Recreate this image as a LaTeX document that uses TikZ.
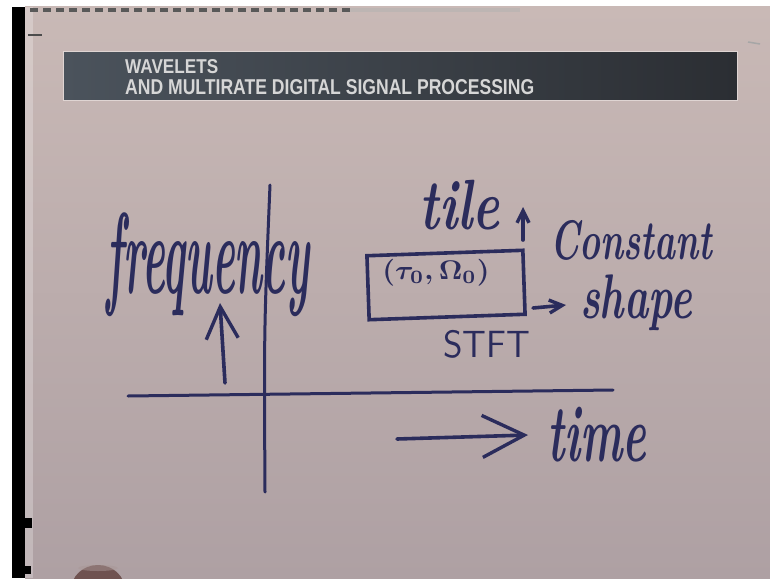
\documentclass[tikz,border=0pt]{standalone}
\usepackage{fontspec}
\usepackage{graphicx}
\usetikzlibrary{arrows.meta}
\newfontfamily\bannerfont{Liberation Sans}
\definecolor{paperTop}{HTML}{C9B9B6}
\definecolor{paperBot}{HTML}{AEA0A3}
\definecolor{bannerL}{HTML}{4B535C}
\definecolor{bannerR}{HTML}{2B2E33}
\definecolor{bannerTxt}{HTML}{D6D6D6}
\definecolor{inkBlue}{HTML}{2B2C5C}
\definecolor{skin}{HTML}{6F5250}
% handwritten word, stretched to a given width and total height
\newcommand{\hw}[3]{\resizebox*{#1}{#2}{#3}}
\tikzset{
  ink/.style={inkBlue, line width=3.6pt, line cap=round, line join=round},
  word/.style={inkBlue, inner sep=0pt, font=\bfseries\itshape},
  axisline/.style={ink, line width=3pt},
  bigbarb/.style={-{Straight Barb[length=#1pt, width=#1pt, line width=3.4pt]}},
}
\begin{document}
\begin{tikzpicture}[x=1pt, y=-1pt]
\useasboundingbox (0,0) rectangle (770,578);
% paper sheet, dark frame edge and white margins
\fill[white] (0,0) rectangle (770,578);
\shade[top color=paperTop, bottom color=paperBot] (25,7) rectangle (770,578);
\fill[white, opacity=0.25] (25,7) rectangle (33,578);
\fill[black] (12,7) rectangle (25,578);
\fill[black] (25,518) rectangle (32,528);
\fill[black] (25,566) rectangle (31,574);
\draw[gray!70!black, line width=4pt, dash pattern=on 8pt off 5pt] (30,10) -- (350,10);
\draw[gray!60, line width=4pt, opacity=0.5] (350,10) -- (520,10);
\draw[gray!60!black, line width=1.5pt] (28,35) -- (42,35);
\draw[gray!70, line width=1.5pt] (748,42) -- (760,44);
% title banner
\shade[left color=bannerL, right color=bannerR, draw=paperTop!60!white, line width=1pt]
  (63,52) rectangle (737,100);
\node[bannerTxt, anchor=south west, inner sep=0pt] (title1) at (125,74)
  {\resizebox{93pt}{14pt}{\bannerfont\bfseries WAVELETS}};
\node[bannerTxt, anchor=south west, inner sep=0pt] (title2) at (125,95)
  {\resizebox{409pt}{15pt}{\bannerfont\bfseries AND MULTIRATE DIGITAL SIGNAL PROCESSING}};
% time-frequency axes
\coordinate (vtop) at (270,185);
\coordinate (vbot) at (265,492);
\coordinate (hleft) at (128,396);
\coordinate (hright) at (613,390);
\draw[axisline] (vtop) .. controls (264,330) .. (vbot);
\draw[axisline] (hleft) -- (hright);
% frequency label with its arrow
\node[word] (freq) at (208,265) {\hw{203pt}{104pt}{frequency}};
\coordinate (fa0) at (225,383);
\coordinate (fa1) at (220,303);
\draw[ink, bigbarb=32] (fa0) -- (fa1);
% the time-frequency tile
\node[draw=inkBlue, line width=3.6pt, minimum width=156pt, minimum height=64pt,
      rotate=2] (tilebox) at (446,285) {};
\node[word, font=\boldmath] (centre) at (436,273) {\hw{107pt}{27pt}{$(\tau_0,\Omega_0)$}};
\node[word] (tile) at (460,205) {\hw{80pt}{50pt}{tile}};
\coordinate (ta0) at (523,240);
\coordinate (ta1) at (523,207);
\draw[ink, bigbarb=12] (ta0) -- (ta1);
\coordinate (ra0) at (533,308);
\coordinate (ra1) at (566,305);
\draw[ink, bigbarb=13] (ra0) -- (ra1);
\node[word] (const) at (631,240) {\hw{162pt}{40pt}{Constant}};
\node[word] (shape) at (636,303) {\hw{112pt}{56pt}{shape}};
\node[word, font=\sffamily] (stft) at (487,344) {\hw{87pt}{28pt}{STFT}};
% time label with its arrow
\coordinate (la0) at (397,439);
\coordinate (la1) at (528,435);
\draw[ink, bigbarb=42] (la0) -- (la1);
\node[word] (time) at (597,435) {\hw{99pt}{55pt}{time}};
% fingertip at the lower edge
\begin{scope}
  \clip (0,0) rectangle (770,578);
  \fill[skin] (98,590) ellipse [x radius=27pt, y radius=25pt];
  \fill[skin!60!white, opacity=0.5] (98,568) ellipse [x radius=20pt, y radius=3pt];
\end{scope}
\end{tikzpicture}
\end{document}
